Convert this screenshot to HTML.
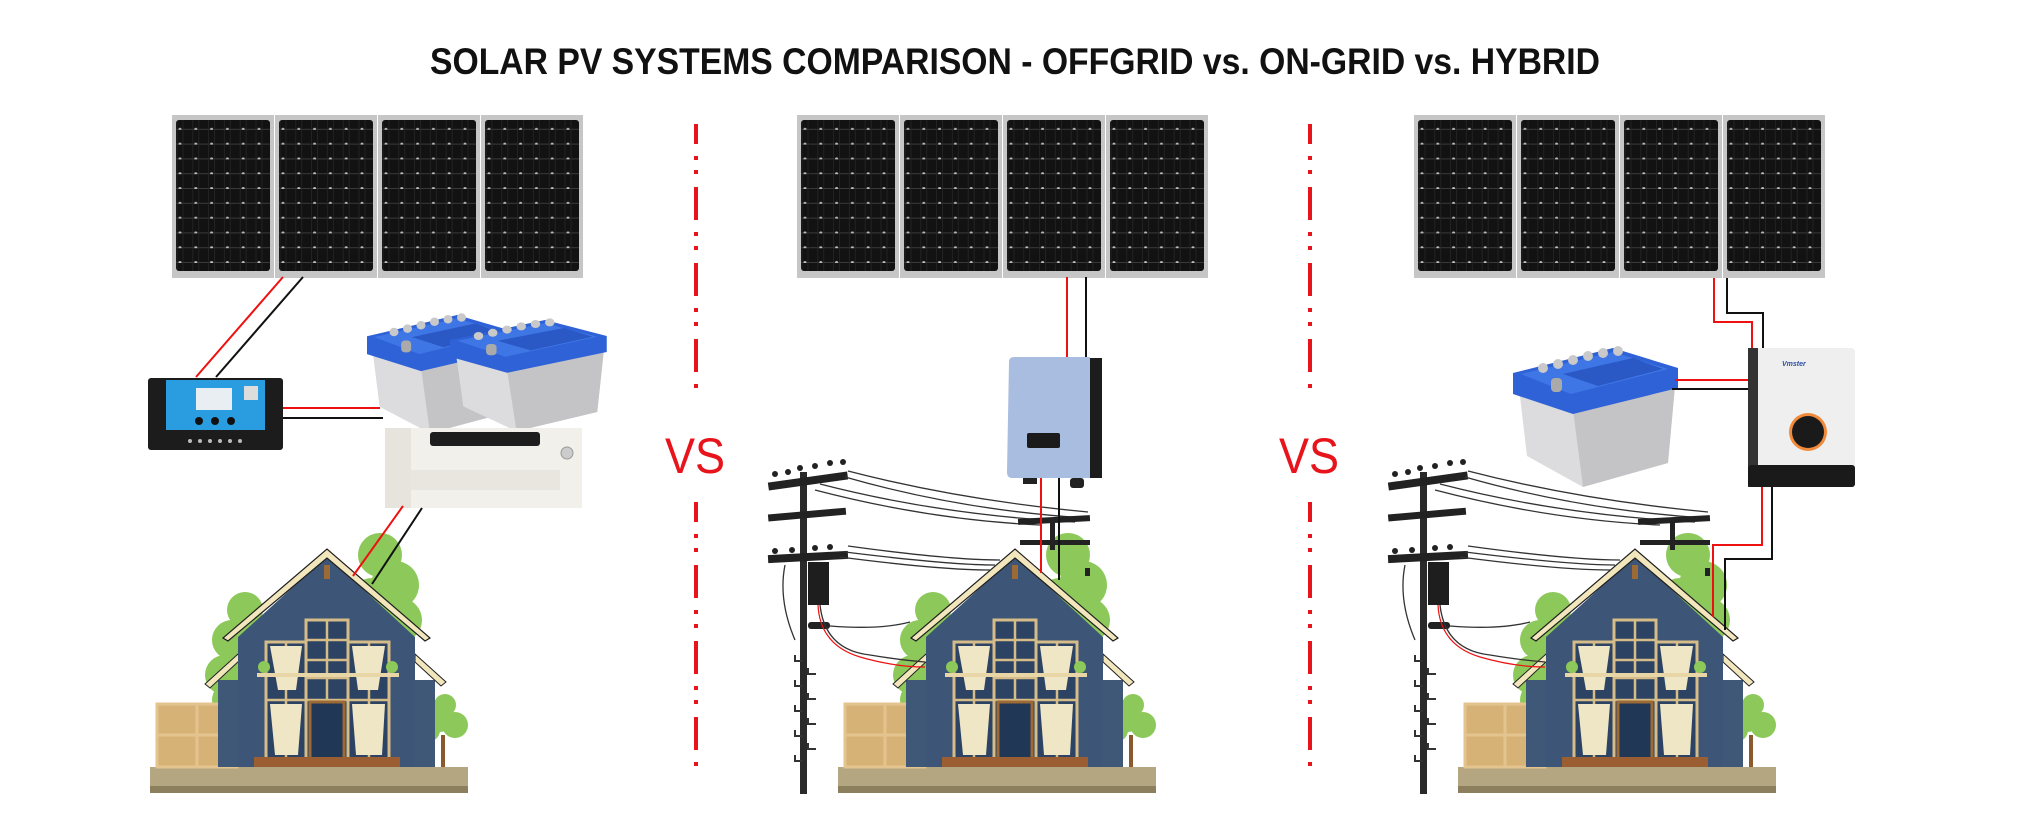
<!DOCTYPE html>
<html><head><meta charset="utf-8"><style>
html,body{margin:0;padding:0;background:#fff;}
svg{display:block;}
</style></head><body>
<svg width="2041" height="832" viewBox="0 0 2041 832" xmlns="http://www.w3.org/2000/svg">
<defs>
<pattern id="cells" x="0" y="0" width="15.8" height="14.8" patternUnits="userSpaceOnUse">
<rect width="15.8" height="14.8" fill="#121212"/>
<line x1="0" y1="14.3" x2="15.8" y2="14.3" stroke="#3a3a3a" stroke-width="1"/>
<line x1="5" y1="0" x2="5" y2="14.8" stroke="#262626" stroke-width="0.8"/>
<line x1="11" y1="0" x2="11" y2="14.8" stroke="#262626" stroke-width="0.8"/>
<circle cx="8" cy="14.3" r="1.5" fill="#bbb"/>
</pattern>
<g id="panel">
<rect x="0" y="0" width="102" height="163" fill="#c6c6c6"/>
<rect x="4" y="5" width="94" height="151" rx="3" fill="url(#cells)"/>
</g>
<g id="panels">
<use href="#panel" x="0"/><use href="#panel" x="103"/><use href="#panel" x="206"/><use href="#panel" x="309"/>
</g>
<g id="house">
<g fill="#8cc85a">
<circle cx="380" cy="555" r="22"/><circle cx="395" cy="585" r="24"/><circle cx="400" cy="620" r="22"/><circle cx="372" cy="600" r="22"/>
<circle cx="245" cy="610" r="18"/><circle cx="232" cy="640" r="20"/><circle cx="225" cy="675" r="20"/><circle cx="230" cy="700" r="18"/>
</g>
<rect x="150" y="767" width="318" height="22" fill="#b3a681"/>
<rect x="150" y="786" width="318" height="7" fill="#8c7f5e"/>
<rect x="157" y="704" width="80" height="63" fill="#d7b277"/>
<rect x="157" y="704" width="80" height="63" fill="none" stroke="#e3c48f" stroke-width="3"/>
<line x1="197" y1="704" x2="197" y2="767" stroke="#e3c48f" stroke-width="3"/>
<line x1="157" y1="735" x2="237" y2="735" stroke="#e3c48f" stroke-width="3"/>
<rect x="441" y="735" width="4" height="32" fill="#8a5a2e"/>
<circle cx="440" cy="718" r="14" fill="#8cc85a"/><circle cx="455" cy="725" r="13" fill="#8cc85a"/><circle cx="428" cy="730" r="12" fill="#8cc85a"/><circle cx="445" cy="705" r="11" fill="#8cc85a"/>
<rect x="218" y="680" width="22" height="87" fill="#3f5878"/>
<rect x="413" y="680" width="22" height="87" fill="#3f5878"/>
<polygon points="205,684 238,654 240,660 210,688" fill="#f2e6bd" stroke="#222" stroke-width="1"/>
<polygon points="415,654 446,682 441,686 415,662" fill="#f2e6bd" stroke="#222" stroke-width="1"/>
<polygon points="238,637 327,556 415,637 415,767 238,767" fill="#3d5678"/>
<polygon points="223,638 327,549 430,638 425,641 327,558 228,641" fill="#f2e6bd" stroke="#1e1e1e" stroke-width="1.2"/>
<rect x="324" y="565" width="6" height="14" fill="#9b6a35"/>
<g fill="#2c4363" stroke="#d5bc88" stroke-width="3">
<rect x="306" y="620" width="42" height="145"/>
<rect x="266" y="642" width="40" height="118"/>
<rect x="348" y="642" width="41" height="118"/>
</g>
<g stroke="#d5bc88" stroke-width="2.5">
<line x1="327" y1="620" x2="327" y2="730"/>
<line x1="306" y1="640" x2="348" y2="640"/><line x1="306" y1="660" x2="348" y2="660"/><line x1="306" y1="678" x2="348" y2="678"/><line x1="306" y1="700" x2="348" y2="700"/>
<line x1="286" y1="642" x2="286" y2="760"/><line x1="369" y1="642" x2="369" y2="760"/>
<line x1="266" y1="700" x2="306" y2="700"/><line x1="348" y1="700" x2="389" y2="700"/>
</g>
<g fill="#efe6c6">
<path d="M270 646 L302 646 L296 690 L278 690 Z"/><path d="M352 646 L385 646 L378 690 L358 690 Z"/>
<path d="M270 704 L302 704 L298 755 L275 755 Z"/><path d="M352 704 L385 704 L382 755 L356 755 Z"/>
</g>
<rect x="310" y="702" width="34" height="62" fill="#213756" stroke="#9b6a35" stroke-width="3"/>
<rect x="257" y="673" width="142" height="4" fill="#e8d6a6"/>
<rect x="254" y="757" width="146" height="10" fill="#9b5e33"/>
<circle cx="264" cy="667" r="6" fill="#8cc85a"/><circle cx="392" cy="667" r="6" fill="#8cc85a"/>
</g>
<g id="pole">
<rect x="800" y="472" width="7" height="322" fill="#2a2a2a"/>
<rect x="768" y="477" width="80" height="8" fill="#222" transform="rotate(-8 808 481)"/>
<rect x="768" y="511" width="78" height="7" fill="#222" transform="rotate(-5 808 514)"/>
<rect x="768" y="553" width="80" height="8" fill="#222" transform="rotate(-3 808 557)"/>
<g fill="#222"><circle cx="775" cy="474" r="3"/><circle cx="788" cy="472" r="3"/><circle cx="800" cy="468" r="3"/><circle cx="815" cy="466" r="3"/><circle cx="830" cy="463" r="3"/><circle cx="843" cy="462" r="3"/>
<circle cx="775" cy="551" r="3"/><circle cx="792" cy="550" r="3"/><circle cx="815" cy="548" r="3"/><circle cx="830" cy="547" r="3"/></g>
<rect x="808" y="562" width="21" height="43" fill="#1e1e1e"/>
<rect x="808" y="622" width="22" height="7" rx="3" fill="#222"/>
<g fill="none" stroke="#333" stroke-width="1.3">
<path d="M848 471 Q960 500 1088 512"/><path d="M845 477 Q960 510 1085 518"/><path d="M820 484 Q940 515 1075 522"/><path d="M815 490 Q930 520 1040 525"/>
<path d="M848 546 Q950 560 1000 560"/><path d="M845 552 Q950 565 995 565"/><path d="M840 557 Q940 570 990 570"/>
<path d="M830 626 Q880 630 910 622"/>
<path d="M785 565 Q778 600 795 640"/>
<path d="M820 605 Q825 650 870 655 Q900 660 925 662"/>
</g>
<path d="M818 605 Q820 645 860 657 Q895 667 925 667" fill="none" stroke="#e11" stroke-width="1.2"/>
<g fill="none" stroke="#333" stroke-width="2"><path d="M795 655 v6 h8"/><path d="M795 680 v6 h8"/><path d="M795 705 v6 h8"/><path d="M795 730 v6 h8"/><path d="M795 755 v6 h8"/><path d="M808 668 v6 h8"/><path d="M808 693 v6 h8"/><path d="M808 718 v6 h8"/><path d="M808 743 v6 h8"/></g>
<rect x="1018" y="517" width="72" height="6" fill="#222" transform="rotate(-3 1054 520)"/>
<rect x="1020" y="540" width="70" height="5" fill="#222"/>
<rect x="1050" y="520" width="5" height="30" fill="#222"/>
<rect x="1085" y="568" width="5" height="8" fill="#222"/>
</g>
<g id="battery">
<polygon points="6,40 60,62 162,38 155,115 70,139 14,108" fill="#dcdcde"/>
<polygon points="60,62 162,38 155,115 70,139" fill="#c4c4c6"/>
<polygon points="0,25 100,0 165,20 165,40 60,66 0,46" fill="#2f62d6"/>
<polygon points="8,26 100,4 155,21 58,46" fill="#3f76e6"/>
<polygon points="50,26 120,10 150,21 85,38" fill="#2a58c4"/>
<g fill="#c9c9c9"><circle cx="30" cy="20" r="5"/><circle cx="45" cy="16" r="5"/><circle cx="60" cy="12" r="5"/><circle cx="75" cy="8" r="5"/><circle cx="90" cy="5" r="5"/><circle cx="105" cy="3" r="5"/></g>
<rect x="38" y="30" width="11" height="14" rx="4" fill="#aaa"/>
</g>
</defs>

<text x="1015" y="74" text-anchor="middle" font-family="'Liberation Sans Narrow','Liberation Sans',sans-serif" font-weight="bold" font-size="37" fill="#111" textLength="1170" lengthAdjust="spacingAndGlyphs">SOLAR PV SYSTEMS COMPARISON - OFFGRID vs. ON-GRID vs. HYBRID</text>

<use href="#panels" x="172" y="115"/>
<use href="#panels" x="797" y="115"/>
<use href="#panels" x="1414" y="115"/>

<g stroke="#e8141c" stroke-width="4" stroke-dasharray="33 12 4 10 4 13" stroke-dashoffset="-63">
<line x1="696" y1="124" x2="696" y2="398"/><line x1="696" y1="502" x2="696" y2="775"/>
<line x1="1310" y1="124" x2="1310" y2="398"/><line x1="1310" y1="502" x2="1310" y2="775"/>
</g>
<text x="695" y="473" text-anchor="middle" font-family="'Liberation Sans',sans-serif" font-size="50" fill="#e8141c" textLength="60" lengthAdjust="spacingAndGlyphs">VS</text>
<text x="1309" y="473" text-anchor="middle" font-family="'Liberation Sans',sans-serif" font-size="50" fill="#e8141c" textLength="60" lengthAdjust="spacingAndGlyphs">VS</text>

<use href="#house"/>
<use href="#house" x="688"/>
<use href="#house" x="1308"/>
<use href="#pole"/>
<use href="#pole" x="620"/>

<!-- OFFGRID -->
<line x1="283" y1="277" x2="196" y2="377" stroke="#e11" stroke-width="2"/>
<line x1="303" y1="277" x2="216" y2="377" stroke="#111" stroke-width="2"/>
<rect x="148" y="378" width="135" height="72" rx="3" fill="#1c1c1c"/>
<rect x="166" y="380" width="99" height="50" fill="#2a9de0"/>
<rect x="196" y="388" width="36" height="22" fill="#e8eef2"/>
<rect x="244" y="386" width="14" height="14" fill="#ddd"/>
<g fill="#111"><circle cx="199" cy="421" r="4"/><circle cx="215" cy="421" r="4"/><circle cx="231" cy="421" r="4"/></g>
<g fill="#bbb"><circle cx="190" cy="441" r="2"/><circle cx="200" cy="441" r="2"/><circle cx="210" cy="441" r="2"/><circle cx="220" cy="441" r="2"/><circle cx="230" cy="441" r="2"/><circle cx="240" cy="441" r="2"/></g>
<line x1="283" y1="408" x2="380" y2="408" stroke="#e11" stroke-width="2"/>
<line x1="283" y1="418" x2="383" y2="418" stroke="#111" stroke-width="2"/>
<use href="#battery" transform="translate(367 315) scale(0.9 0.85)"/>
<use href="#battery" transform="translate(450 320) scale(0.95 0.8)"/>
<rect x="385" y="428" width="197" height="80" fill="#f1f0ea"/>
<rect x="385" y="428" width="26" height="80" fill="#e6e4dc"/>
<rect x="430" y="432" width="110" height="14" rx="3" fill="#1d1d1d"/>
<rect x="410" y="470" width="150" height="20" fill="#e8e6de"/>
<circle cx="567" cy="453" r="6" fill="#ccc" stroke="#999"/>
<line x1="403" y1="506" x2="353" y2="576" stroke="#e11" stroke-width="2"/>
<line x1="422" y1="508" x2="372" y2="584" stroke="#111" stroke-width="2"/>

<!-- ON-GRID -->
<line x1="1067" y1="277" x2="1067" y2="358" stroke="#e11" stroke-width="2"/>
<line x1="1086" y1="277" x2="1086" y2="358" stroke="#111" stroke-width="2"/>
<path d="M1009 362 Q1009 357 1014 357 L1090 357 L1092 478 L1012 478 Q1007 478 1007 472 Z" fill="#a9bde0"/>
<rect x="1090" y="358" width="12" height="120" fill="#1c1c1c"/>
<rect x="1027" y="433" width="33" height="15" rx="2" fill="#1b1b1b"/>
<rect x="1023" y="478" width="14" height="6" fill="#222"/><rect x="1070" y="478" width="14" height="10" rx="3" fill="#222"/>
<line x1="1041" y1="478" x2="1041" y2="573" stroke="#e11" stroke-width="2"/>
<line x1="1059" y1="478" x2="1059" y2="580" stroke="#111" stroke-width="2"/>

<!-- HYBRID -->
<polyline points="1714,278 1714,322 1752,322 1752,350" fill="none" stroke="#e11" stroke-width="2"/>
<polyline points="1727,278 1727,313 1763,313 1763,348" fill="none" stroke="#111" stroke-width="2"/>
<use href="#battery" transform="translate(1513 348)"/>
<line x1="1675" y1="380" x2="1752" y2="380" stroke="#e11" stroke-width="2"/>
<line x1="1672" y1="389" x2="1752" y2="389" stroke="#111" stroke-width="2"/>
<rect x="1748" y="348" width="107" height="139" rx="4" fill="#efefef"/>
<rect x="1748" y="348" width="10" height="139" fill="#333"/>
<rect x="1748" y="465" width="107" height="22" rx="3" fill="#1a1a1a"/>
<circle cx="1808" cy="432" r="19" fill="#f08a3a"/><circle cx="1808" cy="432" r="16" fill="#1a1a1a"/>
<text x="1782" y="366" font-family="'Liberation Sans',sans-serif" font-size="7" font-style="italic" font-weight="bold" fill="#2a4fa0">Vmster</text>
<polyline points="1762,487 1762,545 1713,545 1713,617" fill="none" stroke="#e11" stroke-width="2"/>
<polyline points="1772,487 1772,559 1725,559 1725,630" fill="none" stroke="#111" stroke-width="2"/>
</svg>
</body></html>
